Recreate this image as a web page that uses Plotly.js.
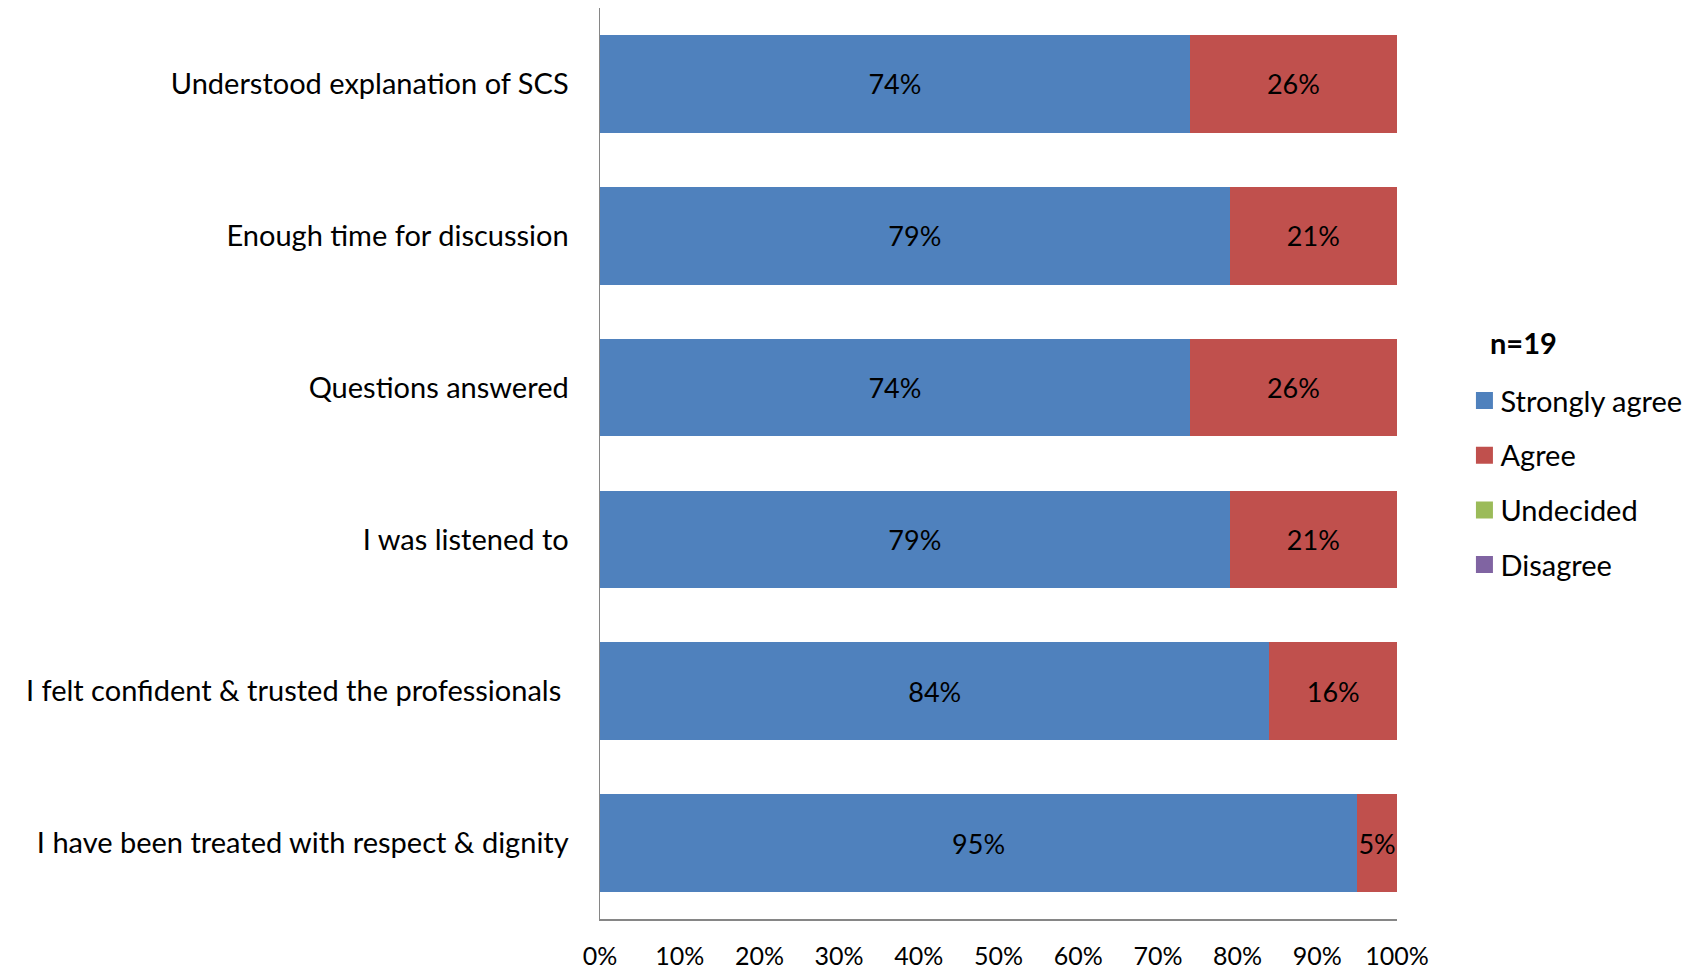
<!DOCTYPE html>
<html>
<head>
<meta charset="utf-8">
<script src="https://cdn.plot.ly/plotly-3.0.1.min.js"></script>
<style>html,body{margin:0;padding:0;background:#fff;}#chart{width:1705px;height:970px;}</style>
</head>
<body>
<div id="chart"></div>
<script>
const categories = [
  "Understood explanation of SCS",
  "Enough time for discussion",
  "Questions answered",
  "I was listened to",
  "I felt confident & trusted the professionals\u00a0",
  "I have been treated with respect & dignity"
];
const stronglyAgree = [74, 79, 74, 79, 84, 95];
const agree = [26, 21, 26, 21, 16, 5];
const undecided = [0, 0, 0, 0, 0, 0];
const disagree = [0, 0, 0, 0, 0, 0];
const seriesNames = ["Strongly agree", "Agree", "Undecided", "Disagree"];
const seriesColors = ["#4F81BD", "#C0504D", "#9BBB59", "#8064A2"];
const xTickVals = [0, 10, 20, 30, 40, 50, 60, 70, 80, 90, 100];
const xTickText = ["0%", "10%", "20%", "30%", "40%", "50%", "60%", "70%", "80%", "90%", "100%"];
const legendTitle = "n=19";

const FONT = "Lato, 'Open Sans', sans-serif";
const allSeries = [stronglyAgree, agree, undecided, disagree];

const traces = allSeries.map((vals, i) => ({
  type: "bar",
  orientation: "h",
  name: seriesNames[i],
  y: categories,
  x: vals,
  marker: {color: seriesColors[i]},
  text: vals.map(v => v > 0 ? v + "%" : ""),
  textposition: "inside",
  insidetextanchor: "middle",
  textangle: 0,
  constraintext: "none",
  cliponaxis: false,
  textfont: {family: FONT, size: 27, color: "#000"},
  hoverinfo: "none",
  legendgroup: "g" + i
}));

const layout = {
  width: 1705,
  height: 970,
  margin: {l: 600, r: 308, t: 8, b: 51},
  barmode: "stack",
  bargap: 0.356,
  paper_bgcolor: "#fff",
  plot_bgcolor: "#fff",
  font: {family: FONT, size: 27, color: "#000"},
  showlegend: true,
  legend: {
    x: 1.0796, xanchor: "left",
    y: 0.597, yanchor: "top",
    font: {family: FONT, size: 29, color: "#000"},
    tracegroupgap: 14,
    traceorder: "grouped",
    itemclick: false
  },
  xaxis: {
    range: [0, 100],
    tickvals: xTickVals,
    ticktext: xTickText,
    showgrid: false,
    zeroline: false,
    showline: true,
    linecolor: "#868686",
    linewidth: 1.5,
    ticks: "",
    ticklabelstandoff: 14,
    tickfont: {family: FONT, size: 25, color: "#000"},
    fixedrange: true
  },
  yaxis: {
    type: "category",
    autorange: "reversed",
    showgrid: false,
    zeroline: false,
    showline: true,
    linecolor: "#868686",
    linewidth: 1.5,
    ticks: "",
    ticklabelstandoff: 24,
    tickfont: {family: FONT, size: 29, color: "#000"},
    fixedrange: true
  },
  annotations: [{
    text: "<b>" + legendTitle + "</b>",
    xref: "paper", yref: "paper",
    x: 1.1145, xanchor: "left",
    y: 0.633, yanchor: "middle",
    showarrow: false,
    font: {family: FONT, size: 29, color: "#000"}
  }]
};

Plotly.newPlot("chart", traces, layout, {displayModeBar: false, staticPlot: true}).then(gd => {
  // enlarge legend colour squares to match the reference
  gd.querySelectorAll(".legend .legendpoints path").forEach(p => {
    p.setAttribute("d", "M12.5,8.5H-4.5V-8.5H12.5Z");
  });
});
</script>
</body>
</html>
